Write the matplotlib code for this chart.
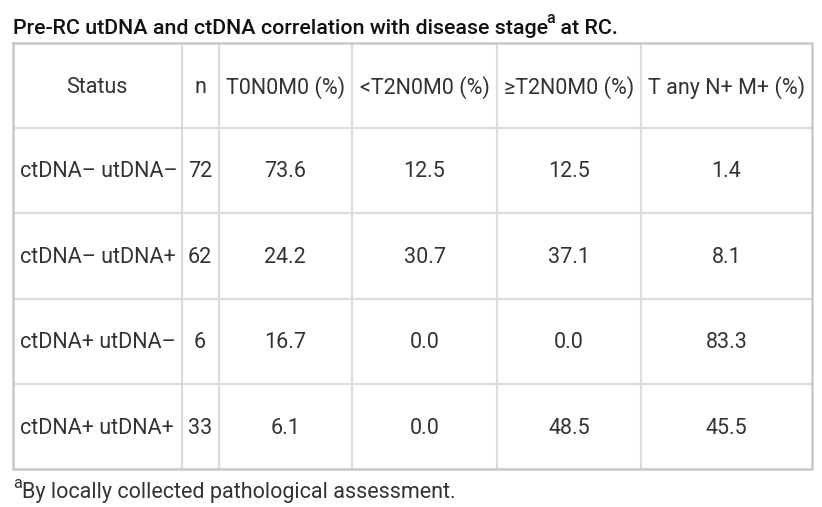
import matplotlib
matplotlib.use("Agg")
import matplotlib.pyplot as plt

# ---- data ----
title = "Pre-RC utDNA and ctDNA correlation with disease stage"
footnote = "By locally collected pathological assessment."
headers = ["Status", "n", "T0N0M0 (%)", "<T2N0M0 (%)", "\u2265T2N0M0 (%)", "T any N+ M+ (%)"]
status = ["ctDNA\u2013 utDNA\u2013", "ctDNA\u2013 utDNA+", "ctDNA+ utDNA\u2013", "ctDNA+ utDNA+"]
n_vals = [72, 62, 6, 33]
t0n0m0 = [73.6, 24.2, 16.7, 6.1]
lt_t2n0m0 = [12.5, 30.7, 0.0, 0.0]
ge_t2n0m0 = [12.5, 37.1, 0.0, 48.5]
t_any_nm = [1.4, 8.1, 83.3, 45.5]

# ---- layout (pixels) ----
W, H = 822, 507
col_edges = [13, 181.5, 218.5, 352, 497, 641, 812]
row_edges = [43, 127.5, 213, 298.5, 384, 469]
FS = 15.5
TFS = 15.4
TXT = "#333333"
INNER = "#dcdcdc"
OUTER = "#c9c9c9"

plt.rcParams['font.family'] = ['Roboto', 'DejaVu Sans']
fig = plt.figure(figsize=(W / 100, H / 100), dpi=100)
ax = fig.add_axes([0, 0, 1, 1])
ax.set_xlim(0, W)
ax.set_ylim(H, 0)
ax.axis("off")

# grid lines
for x in col_edges[1:-1]:
    ax.plot([x, x], [row_edges[0], row_edges[-1]], color=INNER, lw=1.6, solid_capstyle="butt")
for y in row_edges[1:-1]:
    ax.plot([col_edges[0], col_edges[-1]], [y, y], color=INNER, lw=1.6, solid_capstyle="butt")
ax.plot([col_edges[0], col_edges[-1], col_edges[-1], col_edges[0], col_edges[0]],
        [row_edges[0], row_edges[0], row_edges[-1], row_edges[-1], row_edges[0]],
        color=OUTER, lw=1.8, solid_joinstyle="miter")

def cx(i):
    return (col_edges[i] + col_edges[i + 1]) / 2

def cy(j):
    return (row_edges[j] + row_edges[j + 1]) / 2

# header
for i, h in enumerate(headers):
    ax.text(cx(i), cy(0) + 2, h, ha="center", va="center", fontsize=FS, color=TXT)

# body
cols = [n_vals, t0n0m0, lt_t2n0m0, ge_t2n0m0, t_any_nm]
for r in range(len(status)):
    y = cy(r + 1) + 1.5
    ax.text(col_edges[0] + 7, y, status[r], ha="left", va="center", fontsize=FS, color=TXT)
    ax.text(cx(1), y, str(n_vals[r]), ha="center", va="center", fontsize=FS, color=TXT)
    for k, vals in enumerate(cols[1:]):
        ax.text(cx(k + 2), y, f"{vals[r]:.1f}", ha="center", va="center", fontsize=FS, color=TXT)

# title and footnote
t = ax.text(13, 34, title, ha="left", va="baseline",
            fontsize=TFS, color="#111111", fontweight="medium")
fig.canvas.draw()
bb = t.get_window_extent()
x_end = bb.x1
sup = ax.text(x_end - 1.5, 23, "a", ha="left", va="baseline", fontsize=TFS * 0.75,
              color="#111111", fontweight="medium")
fig.canvas.draw()
x_sup = sup.get_window_extent().x1
ax.text(x_sup, 34, " at RC.", ha="left", va="baseline",
        fontsize=TFS, color="#111111", fontweight="medium")

ax.text(13, 488, "a", ha="left", va="baseline", fontsize=FS * 0.75, color=TXT)
ax.text(22, 498, footnote, ha="left", va="baseline", fontsize=FS, color=TXT)

fig.savefig("out.png", dpi=100, facecolor="white")
